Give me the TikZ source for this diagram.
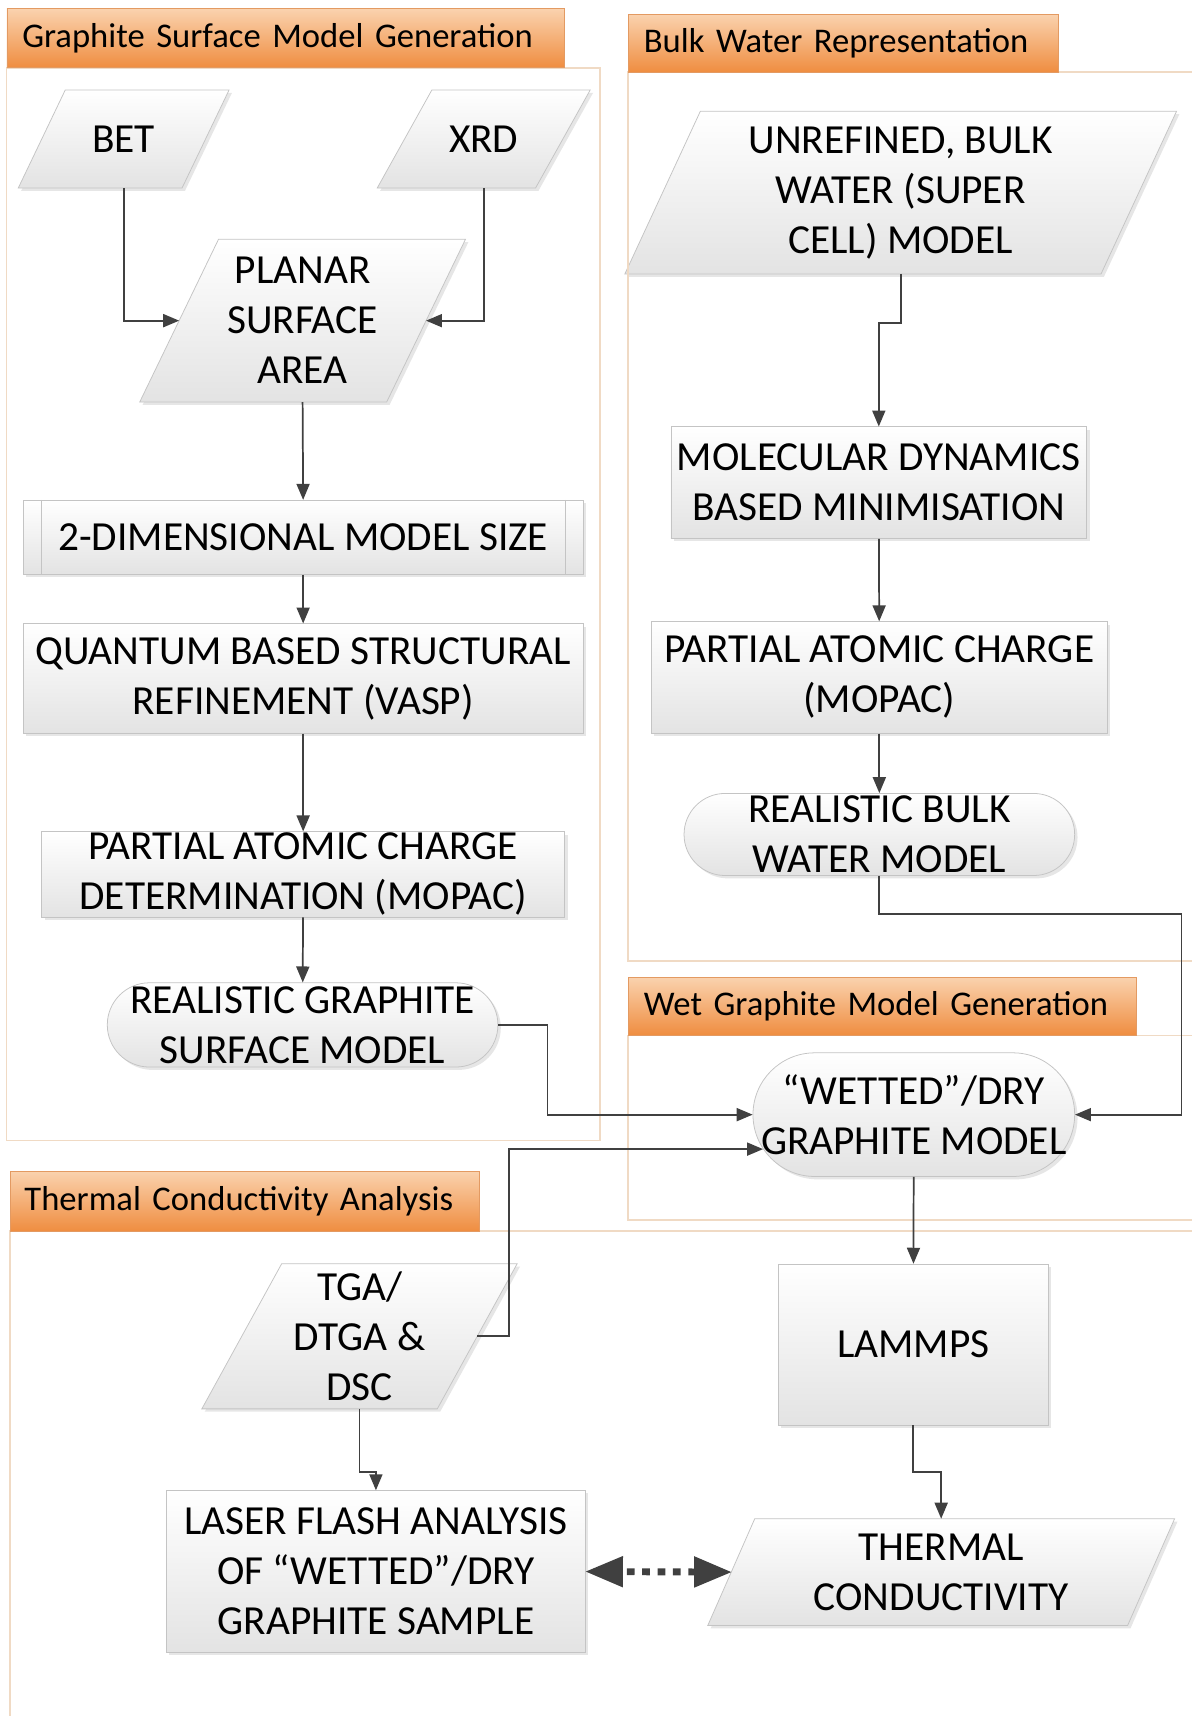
\documentclass[tikz,border=0pt]{standalone}
\usepackage{fontspec}
\setmainfont{Carlito}
\usepackage{tikz}
\usetikzlibrary{arrows,shadows,backgrounds}

\definecolor{hdrtop}{HTML}{FAD2AE}
\definecolor{hdrbot}{HTML}{EF8D40}
\definecolor{hdrline}{HTML}{E39A62}
\definecolor{panelline}{HTML}{F0DAC4}
\definecolor{boxline}{HTML}{C4C4C4}
\definecolor{boxbot}{HTML}{E3E3E3}
\definecolor{arrcol}{HTML}{404040}

\begin{document}
\begin{tikzpicture}[>=triangle 45, x=0.02cm, y=-0.02cm,
    every node/.style={font=\fontsize{21.5}{26}\selectfont, align=center, inner sep=2pt},
    box/.style={draw=boxline, top color=white, bottom color=boxbot,
      drop shadow={shadow xshift=1.5pt, shadow yshift=-1.5pt, opacity=0.2}},
    proc/.style={box, rectangle},
    io/.style={rectangle},
    term/.style={box, rectangle, inner ysep=0pt},
    hdr/.style={draw=hdrline, top color=hdrtop, bottom color=hdrbot, anchor=west,
      align=left, font=\fontsize{18}{20}\selectfont, inner xsep=0.28cm},
    panel/.style={draw=panelline, line width=0.8pt},
    link/.style={->, draw=arrcol, line width=0.9pt}]
      \useasboundingbox (0,0) rectangle (1089,1568);
      \clip (0,0) rectangle (1089,1568);

      % panels
      \draw[panel] (6,62) rectangle (548,1042);
      \draw[panel] (574,66) rectangle (1100,878);
      \draw[panel] (574,946) rectangle (1100,1115);
      \draw[panel] (9,1125) rectangle (1100,1590);
      \node[hdr, minimum height=1.08cm, text width=9.62cm] (hdrgraph) at (6,35) {Graphite Surface Model Generation};
      \node[hdr, minimum height=1.06cm, text width=7.30cm] (hdrbulk) at (574,39.5) {Bulk Water Representation};
      \node[hdr, minimum height=1.06cm, text width=8.72cm] (hdrwet) at (574,919.5) {Wet Graphite Model Generation};
      \node[hdr, minimum height=1.10cm, text width=8.06cm, inner xsep=0.26cm] (hdrtherm) at (9,1097.5) {Thermal Conductivity Analysis};

      % graphite surface
      \node[io, minimum width=2.98cm, minimum height=1.78cm] (bet) at (113,127) {BET};
      \node[io, minimum width=2.88cm, minimum height=1.78cm] (xrd) at (442,127) {XRD};
      \node[io, minimum width=4.5cm, minimum height=2.96cm] (planar) at (276.5,293) {PLANAR\\SURFACE\\AREA};
      \node[proc, minimum width=10.24cm, minimum height=1.36cm] (dimsize) at (277,491) {2-DIMENSIONAL MODEL SIZE};
      \draw[boxline] ([xshift=0.34cm]dimsize.north west) -- ([xshift=0.34cm]dimsize.south west);
      \draw[boxline] ([xshift=-0.34cm]dimsize.north east) -- ([xshift=-0.34cm]dimsize.south east);
      \node[proc, minimum width=10.24cm, minimum height=2.0cm] (quantum) at (277,620) {QUANTUM BASED STRUCTURAL\\REFINEMENT (VASP)};
      \node[proc, minimum width=9.56cm, minimum height=1.56cm, inner ysep=0pt] (chargegraph) at (277,799) {PARTIAL ATOMIC CHARGE\\DETERMINATION (MOPAC)};
      \node[term, minimum width=7.14cm, minimum height=1.54cm, rounded corners=0.77cm] (realgraph) at (276.5,936.5) {REALISTIC GRAPHITE\\SURFACE MODEL};

      % bulk water
      \node[io, minimum width=8.69cm, minimum height=2.96cm] (unrefined) at (823,176) {UNREFINED, BULK\\WATER (SUPER\\CELL) MODEL};
      \node[proc, minimum width=7.6cm, minimum height=2.04cm] (moldyn) at (803,441) {MOLECULAR DYNAMICS\\BASED MINIMISATION};
      \node[proc, minimum width=8.34cm, minimum height=2.04cm] (chargebulk) at (803.5,619) {PARTIAL ATOMIC CHARGE\\(MOPAC)};
      \node[term, minimum width=7.14cm, minimum height=1.5cm, rounded corners=0.75cm] (realbulk) at (803.5,762.5) {REALISTIC BULK\\WATER MODEL};

      % wet graphite
      \node[term, minimum width=5.88cm, minimum height=2.26cm, rounded corners=1.13cm] (wetted) at (835,1018.5) {``WETTED''/DRY\\GRAPHITE MODEL};

      % thermal conductivity
      \node[io, minimum width=4.29cm, minimum height=2.64cm] (tga) at (328.5,1221) {TGA/\\DTGA \&\\DSC};
      \node[proc, minimum width=7.66cm, minimum height=2.96cm] (laser) at (343.5,1436) {LASER FLASH ANALYSIS\\OF ``WETTED''/DRY\\GRAPHITE SAMPLE};
      \node[proc, minimum width=4.94cm, minimum height=2.94cm] (lammps) at (834.5,1228.5) {LAMMPS};
      \node[io, minimum width=7.66cm, minimum height=1.94cm] (thermal) at (860,1436.5) {THERMAL\\CONDUCTIVITY};

      % data shapes behind the io nodes
      \begin{pgfonlayer}{background}
        \foreach \n/\s in {bet/0.43cm, xrd/0.5cm, planar/0.72cm, unrefined/0.69cm, tga/0.73cm, thermal/0.43cm}
          \path[box] ([xshift=\s]\n.north west) -- ([xshift=\s]\n.north east)
            -- ([xshift=-\s]\n.south east) -- ([xshift=-\s]\n.south west) -- cycle;
      \end{pgfonlayer}

      \draw[link] (bet.south) |- (planar.west); % bet -> planar
      \draw[link] (xrd.south) |- (planar.east); % xrd -> planar
      \draw[link] (planar.south) -- (dimsize.north);
      \draw[link] (dimsize) -- (quantum);
      \draw[link] (quantum) -- (chargegraph);
      \draw[link] (chargegraph) -- (realgraph);
      \draw[link] (realgraph.east) -- ++(45,0) |- (wetted.west); % graphite -> wetted
      \draw[link] (unrefined.south) -- ++(0,45) -| (moldyn.north);
      \draw[link] (moldyn) -- (chargebulk);
      \draw[link] (chargebulk) -- (realbulk);
      \draw[link] (realbulk.south) -- ++(0,35) -- ++(276,0) |- (wetted.east); % water -> wetted
      \draw[link] (tga.east) -- ++(29,0) |- ([xshift=0.19cm,yshift=-0.63cm]wetted.west); % tga -> wetted
      \draw[link] (wetted) -- (lammps);
      \draw[link] (tga.south) -- ++(0,58) -| (laser.north);
      \draw[link] (lammps.south) -- ++(0,43) -| (thermal.north);
      \draw[<->, arrcol, line width=3.6pt, dash pattern=on 4pt off 4pt] (laser.east) -- (thermal.west); % laser <-> thermal
    \end{tikzpicture}
\end{document}
